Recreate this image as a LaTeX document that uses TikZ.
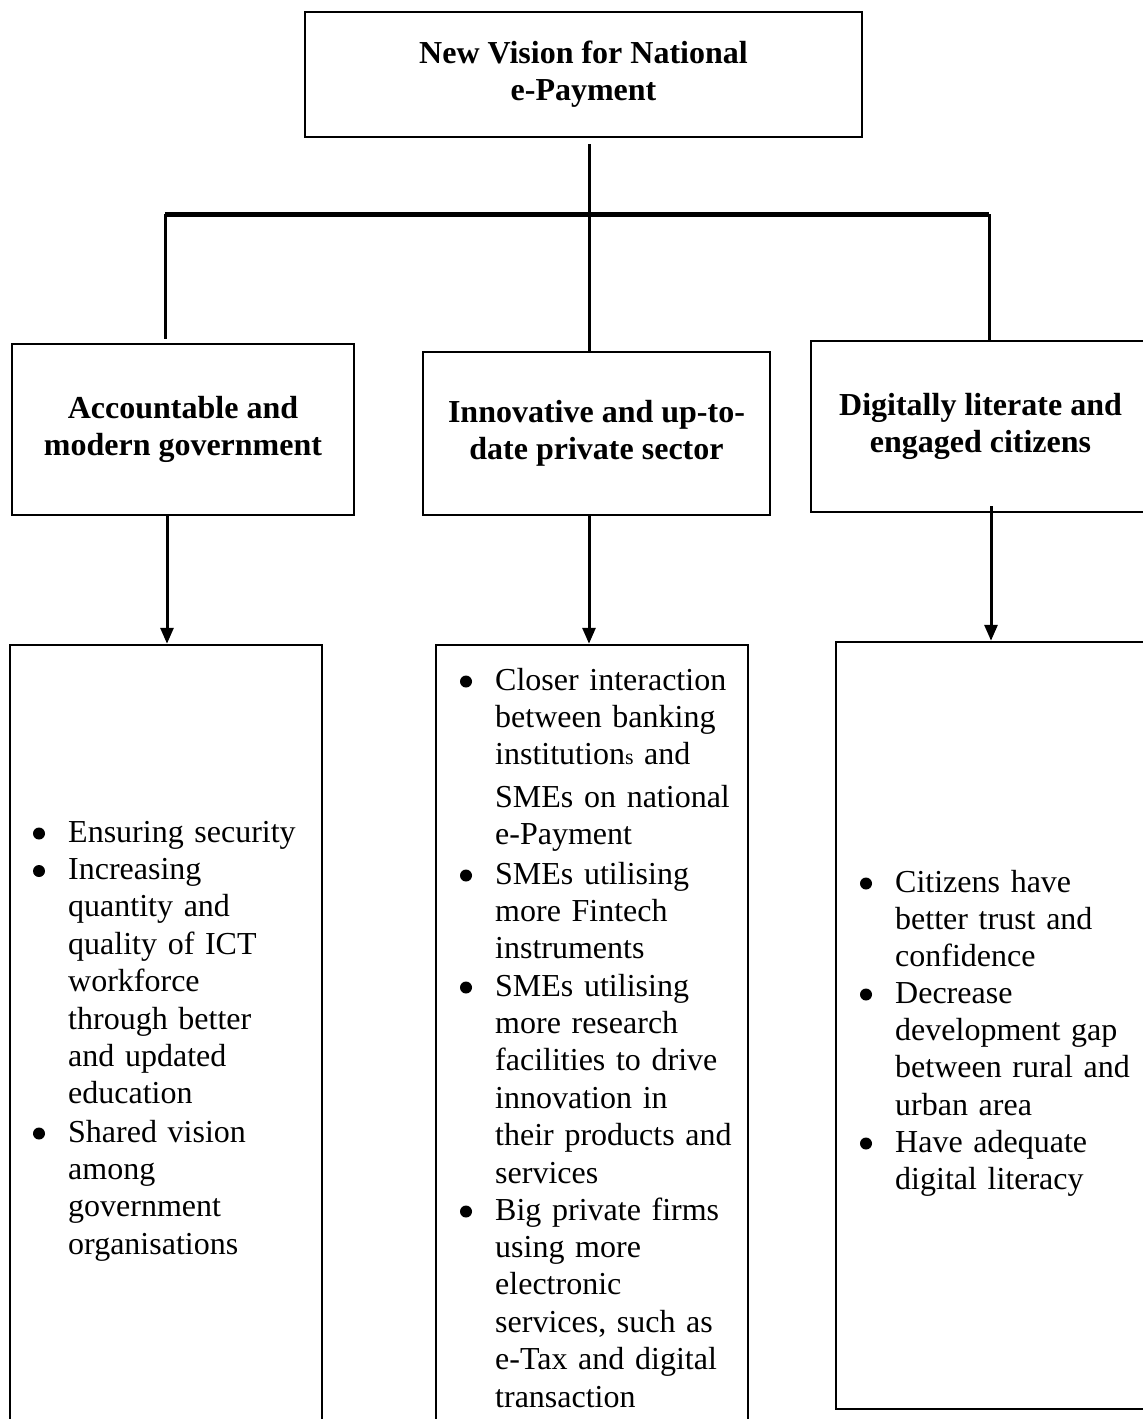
\documentclass[tikz,border=0pt]{standalone}
\usepackage{fontspec}
\setmainfont{Liberation Serif}
\usetikzlibrary{arrows.meta}
\tikzset{
  box/.style={draw, line width=2.5pt, inner sep=0pt},
  ttl/.style={font=\bfseries\fontsize{32}{37}\selectfont, align=center},
  itm/.style={anchor=base west, inner sep=0pt, text width=300pt, align=left, font=\fontsize{32}{37.4}\selectfont},
  conn/.style={line width=3pt},
  bar/.style={line width=5pt},
  arr/.style={line width=3pt, -{Triangle[length=16pt,width=13pt]}},
  dot/.style={fill=black},
}
\begin{document}
\begin{tikzpicture}[x=1pt,y=-1pt]
\useasboundingbox (0,0) rectangle (1143,1419);
\clip (0,0) rectangle (1143,1419);
% top
\node[box, ttl, minimum width=557pt, minimum height=125pt] (top) at (583.5,74.5) {New Vision for National\\e-Payment};
% titles
\node[box, ttl, minimum width=342pt, minimum height=171pt] (tL) at (183,429.5) {Accountable and\\modern government};
\node[box, ttl, minimum width=347pt, minimum height=163pt] (tM) at (596.5,433.5) {Innovative and up-to-\\date private sector};
\node[box, ttl, minimum width=339pt, minimum height=171pt] (tR) at (980.5,426.5) {Digitally literate and\\engaged citizens};
% bottom boxes
\node[box, minimum width=312pt, minimum height=785pt] (bL) at (166,1037.5) {};
\node[box, minimum width=312pt, minimum height=785pt] (bM) at (592,1037.5) {};
\node[box, minimum width=314pt, minimum height=767pt] (bR) at (993,1025.5) {};
% tree connectors
\coordinate (hl) at (165,214);
\coordinate (hr) at (989,214);
\draw[bar] (hl) -- (hr);
\draw[conn] (top.south -| 589,0) ++(0,6) -- (tM.north -| 589,0);
\draw[conn, shorten >=4pt] (hl) -- (tL.north -| hl);
\draw[conn] (hr) -- (tR.north -| hr);
% arrows
\draw[arr] (tL.south -| 167,0) -- (bL.north -| 167,0);
\draw[arr] (tM.south -| 589,0) -- (bM.north -| 589,0);
\draw[arr] (tR.south -| 991,0) ++(0,-7) -- (bR.north -| 991,0);
% left items
\node[itm] (l1) at (68,842) {Ensuring security};
\node[itm] (l2) at (68,879.5) {Increasing\\quantity and\\quality of ICT\\workforce\\through better\\and updated\\education};
\node[itm] (l3) at (68,1142) {Shared vision\\among\\government\\organisations};
% middle items
\node[itm] (m1) at (495,690) {Closer interaction\\between banking\\institution{\fontsize{22}{22}\selectfont s} and\\[5pt]SMEs on national\\e-Payment};
\node[itm] (m2) at (495,884) {SMEs utilising\\more Fintech\\instruments};
\node[itm] (m3) at (495,996) {SMEs utilising\\more research\\facilities to drive\\innovation in\\their products and\\services};
\node[itm] (m4) at (495,1220) {Big private firms\\using more\\electronic\\services, such as\\e-Tax and digital\\transaction};
% right items
\node[itm] (r1) at (895,892) {Citizens have\\better trust and\\confidence};
\node[itm] (r2) at (895,1003) {Decrease\\development gap\\between rural and\\urban area};
\node[itm] (r3) at (895,1152) {Have adequate\\digital literacy};
% bullets
\foreach \n in {l1,l2,l3,m1,m2,m3,m4,r1,r2,r3}
  \fill[dot] ([shift={(-29,-8.5)}]\n.base west) circle (6pt);
\end{tikzpicture}
\end{document}
